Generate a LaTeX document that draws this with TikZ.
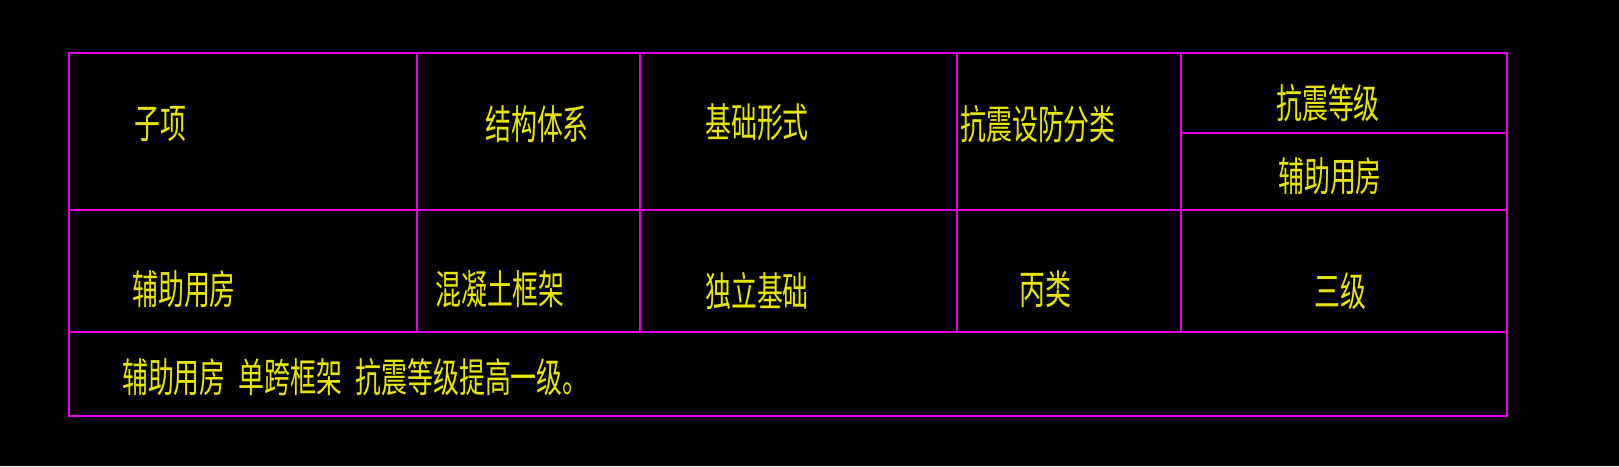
\documentclass[tikz,border=0pt]{standalone}
\usepackage{fontspec}
\newfontfamily\cjk{Noto Sans CJK SC}[Scale=1]
\definecolor{mag}{RGB}{230,0,230}
\definecolor{yel}{RGB}{230,230,0}
\begin{document}
\begin{tikzpicture}[x=1pt,y=-1pt,
  ln/.style={draw=mag,line width=1.2pt},
  tx/.style={text=yel,font=\cjk\fontsize{36}{36}\selectfont,inner sep=0pt,xscale=0.72,yscale=1.12}]
\fill[black] (0,0) rectangle (1619,466);
\useasboundingbox (0,0) rectangle (1619,466);
\draw[ln] (69,53) rectangle (1507,416);
\draw[ln] (69,210) -- (1507,210);
\draw[ln] (69,332) -- (1507,332);
\draw[ln] (1181,133) -- (1507,133);
\foreach \x in {417,640,957,1181} \draw[ln] (\x,53) -- (\x,332);
\node[tx] (a1) at (160,124) {子项};
\node[tx] (a2) at (537,124) {结构体系};
\node[tx] (a3) at (757,122) {基础形式};
\node[tx] (a4) at (1038,124) {抗震设防分类};
\node[tx] (a5) at (1328,103) {抗震等级};
\node[tx] (a6) at (1330,176) {辅助用房};
\node[tx] (b1) at (184,289) {辅助用房};
\node[tx] (b2) at (500,289) {混凝土框架};
\node[tx] (b3) at (757,291) {独立基础};
\node[tx] (b4) at (1045,289) {丙类};
\node[tx] (b5) at (1340,291) {三级};
\node[tx,anchor=west] (c1) at (122,377) {辅助用房\hspace{0.5em}单跨框架\hspace{0.5em}抗震等级提高一级。};
\end{tikzpicture}
\end{document}
